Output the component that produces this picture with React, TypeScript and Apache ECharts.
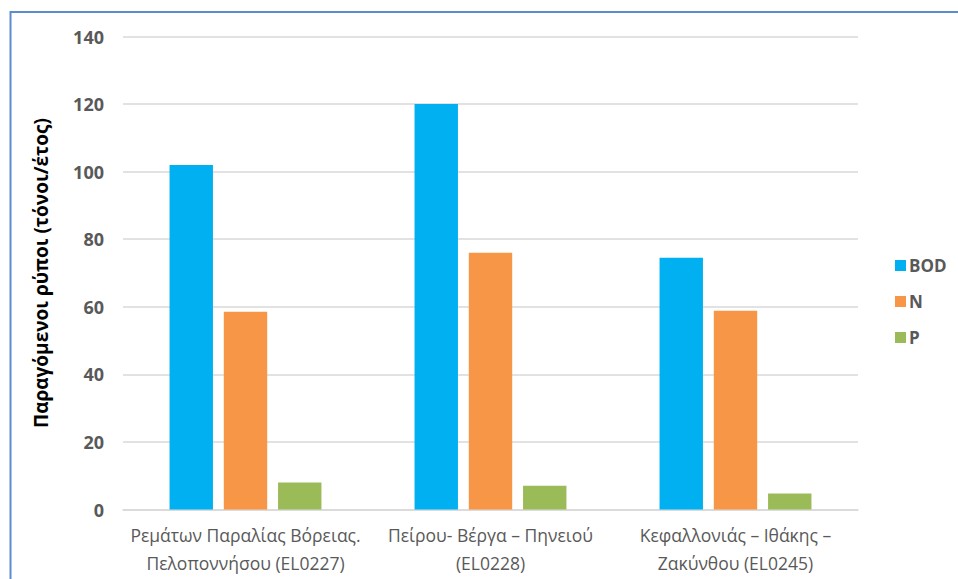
import React, { useEffect, useRef } from "react";
import * as echarts from "echarts";

const categories = [
  "Ρεμάτων Παραλίας Βόρειας.\nΠελοποννήσου (EL0227)",
  "Πείρου- Βέργα – Πηνειού\n(EL0228)",
  "Κεφαλλονιάς – Ιθάκης –\nΖακύνθου (EL0245)",
];
const seriesNames = ["BOD", "N", "P"];
const bodValues = [102, 120, 74.5];
const nValues = [58.5, 76, 58.8];
const pValues = [8, 7, 4.7];
const colors = ["#00B0F0", "#F79646", "#9BBB59"];
const yTitle = "Παραγόμενοι ρύποι (τόνοι/έτος)";

export default function App() {
  const ref = useRef<HTMLDivElement>(null);
  useEffect(() => {
    const chart = echarts.init(ref.current!, null, { renderer: "svg" });
    const values = [bodValues, nValues, pValues];
    chart.setOption({
      animation: false,
      textStyle: { fontFamily: "Open Sans" },
      graphic: [
        {
          type: "rect",
          shape: { x: 10.5, y: 12, width: 970, height: 600 },
          style: { fill: "none", stroke: "#5B8BD0", lineWidth: 2 },
          silent: true,
        },
      ],
      grid: { left: 123, right: 100, top: 36.5, bottom: 69.5 },
      legend: {
        orient: "vertical",
        left: 890,
        top: 252,
        itemWidth: 11,
        itemHeight: 11,
        itemGap: 19,
        icon: "rect",
        data: seriesNames,
        textStyle: { color: "#595959", fontSize: 17, fontWeight: "bold", padding: [0, 0, 0, -2] },
      },
      xAxis: {
        type: "category",
        data: categories,
        axisTick: { show: false },
        axisLine: { lineStyle: { color: "#D9D9D9", width: 1.5 } },
        axisLabel: { color: "#595959", fontSize: 17.5, lineHeight: 28, margin: 11, interval: 0 },
      },
      yAxis: {
        type: "value",
        min: 0,
        max: 140,
        interval: 20,
        name: yTitle,
        nameLocation: "middle",
        nameGap: 73,
        nameTextStyle: { color: "#000000", fontSize: 19, fontWeight: "bold" },
        axisLabel: { color: "#595959", fontSize: 18, fontWeight: "bold", margin: 19 },
        splitLine: { lineStyle: { color: "#D9D9D9", width: 1.5 } },
        axisLine: { show: false },
        axisTick: { show: false },
      },
      series: seriesNames.map((name, i) => ({
        name,
        type: "bar",
        data: values[i],
        barGap: "25%",
        barCategoryGap: "38%",
        itemStyle: { color: colors[i] },
      })),
    });
    return () => chart.dispose();
  }, []);
  return (
    <div
      ref={ref}
      style={{ position: "fixed", left: 0, top: 0, width: 958, height: 579, background: "#fff" }}
    />
  );
}
